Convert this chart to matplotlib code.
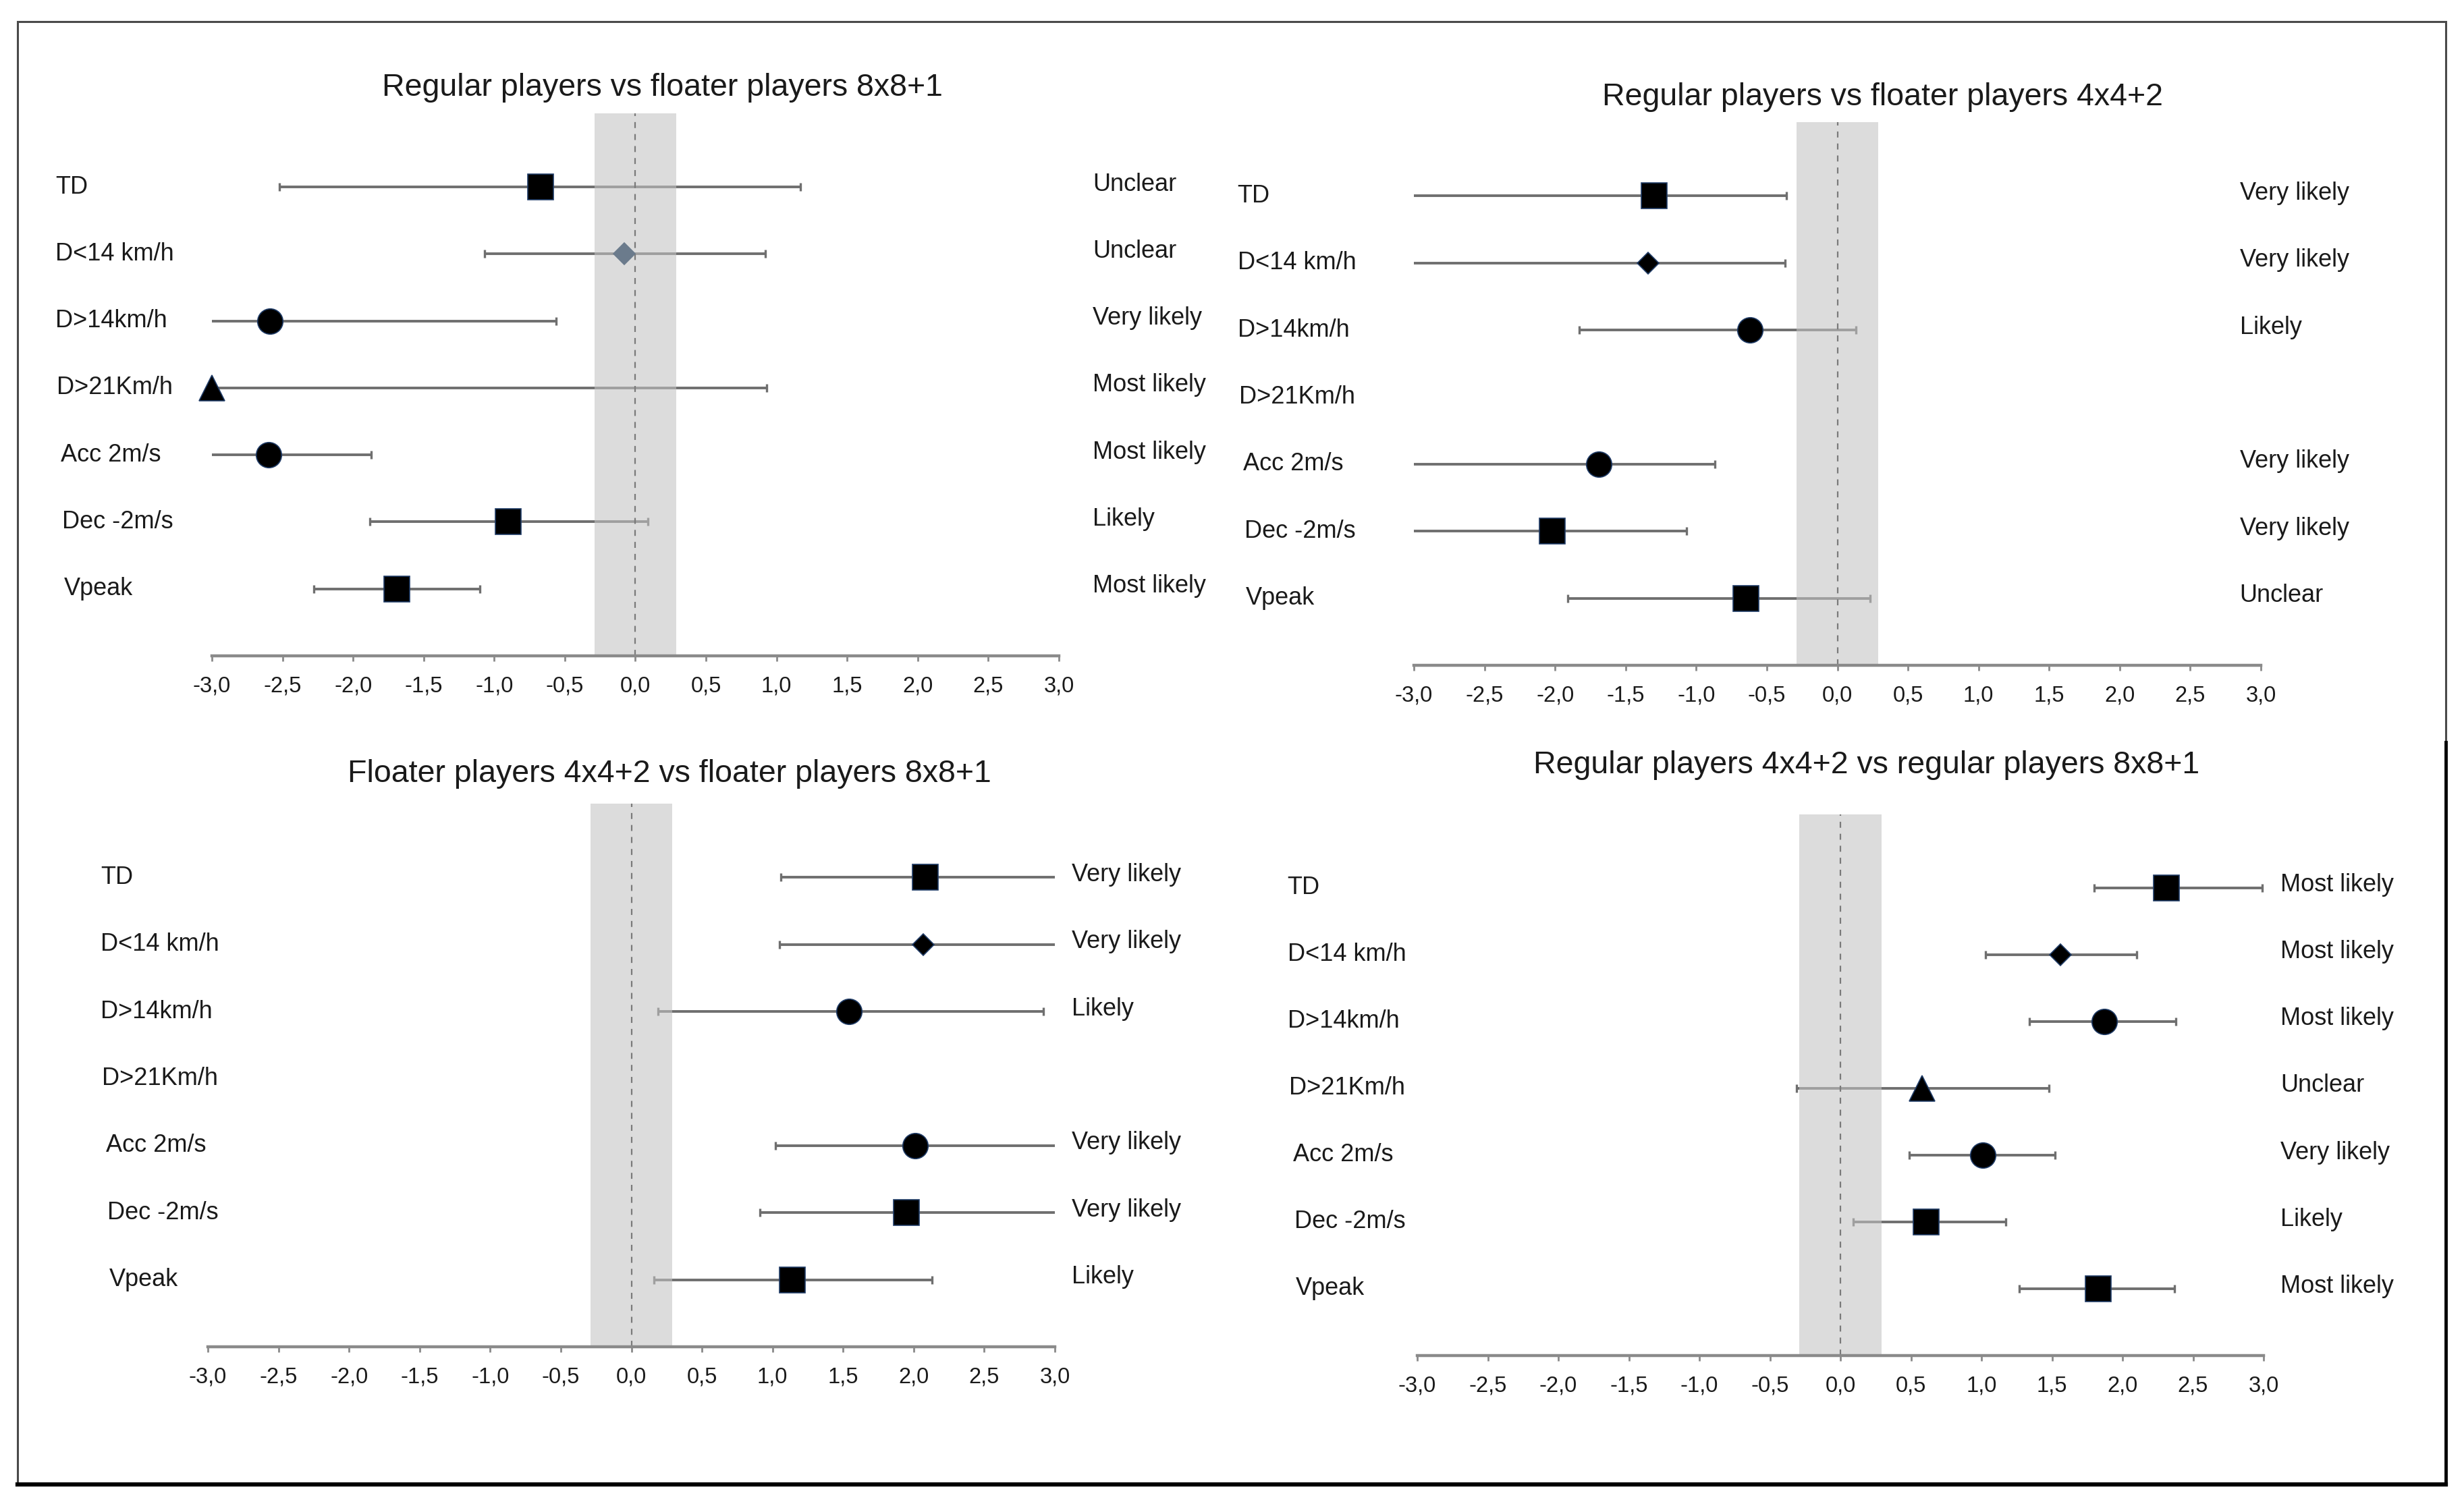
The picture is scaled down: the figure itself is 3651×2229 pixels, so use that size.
import matplotlib
matplotlib.use('Agg')
import matplotlib.pyplot as plt
import numpy as np
from matplotlib.patches import Rectangle
from matplotlib.lines import Line2D

plt.rcParams['font.family'] = ['Liberation Sans', 'DejaVu Sans']

nan = np.nan

# data
metrics = ['TD', 'D<14 km/h', 'D>14km/h', 'D>21Km/h', 'Acc 2m/s', 'Dec -2m/s', 'Vpeak']
shapes = ['s', 'D', 'o', '^', 'o', 's', 's']
ticks = [-3.0, -2.5, -2.0, -1.5, -1.0, -0.5, 0.0, 0.5, 1.0, 1.5, 2.0, 2.5, 3.0]
tick_labels = [('%.1f' % t).replace('.', ',') for t in ticks]
trivial = 0.29

titles = ['Regular players vs floater players 8x8+1',
          'Regular players vs floater players 4x4+2',
          'Floater players 4x4+2 vs floater players 8x8+1',
          'Regular players 4x4+2 vs regular players 8x8+1']

p1_mean = [-0.67, -0.08, -2.59, -3.0, -2.60, -0.90, -1.69]
p1_low = [-2.52, -1.07, -3.0, -3.0, -3.0, -1.88, -2.28]
p1_high = [1.17, 0.92, -0.56, 0.93, -1.87, 0.09, -1.10]
p1_text = ['Unclear', 'Unclear', 'Very likely', 'Most likely', 'Most likely', 'Likely', 'Most likely']

p2_mean = [-1.30, -1.34, -0.62, nan, -1.69, -2.02, -0.65]
p2_low = [-3.0, -3.0, -1.83, nan, -3.0, -3.0, -1.91]
p2_high = [-0.36, -0.37, 0.13, nan, -0.87, -1.07, 0.23]
p2_text = ['Very likely', 'Very likely', 'Likely', '', 'Very likely', 'Very likely', 'Unclear']

p3_mean = [2.08, 2.07, 1.54, nan, 2.01, 1.95, 1.14]
p3_low = [1.06, 1.05, 0.19, nan, 1.02, 0.91, 0.16]
p3_high = [3.0, 3.0, 2.92, nan, 3.0, 3.0, 2.13]
p3_text = ['Very likely', 'Very likely', 'Likely', '', 'Very likely', 'Very likely', 'Likely']

p4_mean = [2.31, 1.56, 1.87, 0.58, 1.01, 0.61, 1.83]
p4_low = [1.80, 1.03, 1.34, -0.31, 0.49, 0.09, 1.27]
p4_high = [2.99, 2.10, 2.38, 1.48, 1.52, 1.17, 2.37]
p4_text = ['Most likely', 'Most likely', 'Most likely', 'Unclear', 'Very likely', 'Likely', 'Most likely']

panels = [(p1_mean, p1_low, p1_high, p1_text),
          (p2_mean, p2_low, p2_high, p2_text),
          (p3_mean, p3_low, p3_high, p3_text),
          (p4_mean, p4_low, p4_high, p4_text)]

# layout in pixels (figure is 3651 x 2229)
W, H = 3651, 2229
# left, right, top, bottom of each axis line box
boxes = [(314, 1569, 168, 972), (2095, 3350, 181, 986),
         (308, 1563, 1191, 1996), (2100, 3354, 1207, 2009)]
title_pos = [(981, 130), (2789, 144), (992, 1147), (2766, 1134)]
left_lab = [-4.11, -4.25, -3.76, -3.92]
right_lab = [3.24, 2.85, 3.12, 3.12]
indent = [0, 0, 0, 0.01, 0.04, 0.05, 0.06]   # left labels drift right a bit

fig = plt.figure(figsize=(W / 100, H / 100), dpi=100)
fig.patch.set_facecolor('white')

bar_col = '#6f6f6f'
txt_col = '#1a1a1a'

for k, (mean, low, high, text) in enumerate(panels):
    l, r, t, b = boxes[k]
    ax = fig.add_axes([l / W, 1 - b / H, (r - l) / W, (b - t) / H])
    ax.set_xlim(-3, 3)
    ax.set_ylim(7.0, -1.1)
    ax.axvspan(-trivial, trivial, color='#c3c3c3', alpha=0.58, lw=0, zorder=3)
    ax.axvline(0, color='#7a7a7a', lw=1.6, ls=(0, (4, 4)), zorder=4)

    for i in range(len(metrics)):
        if not np.isnan(mean[i]):
            ax.plot([low[i], high[i]], [i, i], color=bar_col, lw=2.8, zorder=2,
                    solid_capstyle='butt')
            ends = [e for e in (low[i], high[i]) if abs(e) < 2.995]
            ax.plot(ends, [i] * len(ends), ls='none', marker='|', ms=9, mew=2.4,
                    color=bar_col, zorder=2)
            face = '#6b7b8c' if (k == 0 and i == 1) else 'black'
            ms = 16 if shapes[i] == 'D' else 27
            ax.plot(mean[i], i, marker=shapes[i], ms=ms, color=face,
                    mec='#1f3b66' if face == 'black' else face, mew=1.2,
                    zorder=6, clip_on=False)
        ax.text(left_lab[k] + indent[i], i, metrics[i], fontsize=26, color=txt_col,
                ha='left', va='center', clip_on=False)
        ax.text(right_lab[k], i - 0.04, text[i], fontsize=26, color=txt_col,
                ha='left', va='center', clip_on=False)

    for s in ['left', 'right', 'top']:
        ax.spines[s].set_visible(False)
    ax.spines['bottom'].set_color('#8a8a8a')
    ax.spines['bottom'].set_linewidth(3.2)
    ax.spines['bottom'].set_zorder(5)
    ax.set_yticks([])
    ax.set_xticks(ticks)
    ax.set_xticklabels(tick_labels)
    ax.tick_params(axis='x', direction='out', length=6, width=2, color='#8a8a8a',
                   labelsize=23.5, labelcolor=txt_col, pad=15)
    ax.patch.set_alpha(0)

    fig.text(title_pos[k][0] / W, 1 - title_pos[k][1] / H, titles[k], fontsize=33.5,
             color=txt_col, ha='center', va='center')

# outer frame
fig.add_artist(Rectangle((26 / W, 1 - 2200 / H), (3624 - 26) / W, (2200 - 32) / H,
                         transform=fig.transFigure, fill=False, ec='#4a4a4a', lw=2.2))
fig.add_artist(Line2D([26 / W, 3624 / W], [1 - 2200 / H] * 2, transform=fig.transFigure,
                      color='black', lw=4.5))
fig.add_artist(Line2D([3624 / W] * 2, [1 - 2200 / H, 1 - 1100 / H], transform=fig.transFigure,
                      color='black', lw=3.5))

fig.savefig('out.png', dpi=100)
